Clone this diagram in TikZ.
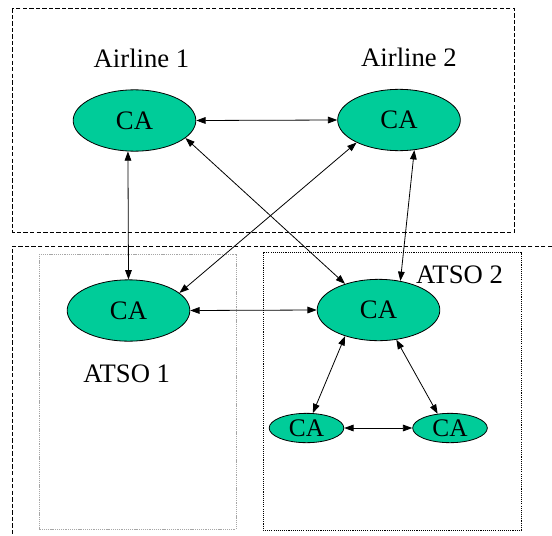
\documentclass[tikz,border=0pt]{standalone}
\usepackage{fontspec}
\setmainfont{Liberation Serif}
\usetikzlibrary{shapes.geometric,arrows.meta}
\definecolor{cagreen}{RGB}{0,204,153}
\begin{document}
\begin{tikzpicture}[x=0.75pt,y=-0.75pt,
  ca/.style={ellipse,draw=black,line width=0.6pt,fill=cagreen,inner sep=0pt,
    minimum width=92pt,minimum height=46pt,font=\fontsize{20}{24}\selectfont},
  smallca/.style={ca,minimum width=56pt,minimum height=22pt,font=\fontsize{19}{22}\selectfont},
  lbl/.style={anchor=base,inner sep=0pt,font=\fontsize{20}{24}\selectfont},
  link/.style={line width=0.6pt,{Triangle[length=7pt,width=5pt]}-{Triangle[length=7pt,width=5pt]}},
  dashbox/.style={line width=0.75pt,dash pattern=on 3.3pt off 1.6pt},
  graybox/.style={line width=0.7pt,draw=gray!70,dash pattern=on 0.8pt off 0.6pt},
  dotbox/.style={line width=0.75pt,dash pattern=on 0.8pt off 0.8pt}]
\useasboundingbox (0,0) rectangle (552,535);
% frames
\draw[dashbox] (12.3,8.3) rectangle (514.3,232.3);
\draw[dashbox] (552,246.3) -- (12.3,246.3) -- (12.3,535);
\draw[graybox] (39,254) rectangle (236,529);
\draw[dotbox] (263,252.5) rectangle (521,530);
% labels
\node[lbl] (l1) at (141.5,67) {Airline 1};
\node[lbl] (l2) at (409,66.7) {Airline 2};
\node[lbl] (l3) at (126.7,382.3) {ATSO 1};
\node[lbl] (l4) at (459.5,283.3) {ATSO 2};
% CA nodes
\node[ca] (a1) at (134.5,120.5) {CA};
\node[ca] (a2) at (399,120) {CA};
\node[ca] (t1) at (128.5,310.5) {CA};
\node[ca] (t2) at (378.5,310) {CA};
\node[smallca] (s1) at (306.5,428) {CA};
\node[smallca] (s2) at (450,428) {CA};
% links
\draw[link] (a1.east) -- (a2.west);
\draw[link] (a1.-102) -- (t1.north);
\draw[link] (a1.-19.5) -- (t2.142);
\draw[link] (a2.208) -- (t1.19);
\draw[link] (a2.-63) -- (t2.53);
\draw[link] (t1.east) -- (t2.west);
\draw[link] (t2.218) -- (s1.67.5);
\draw[link] (t2.-59.6) -- (s2.131);
\draw[link] (s1.east) -- (s2.west);
\end{tikzpicture}
\end{document}
